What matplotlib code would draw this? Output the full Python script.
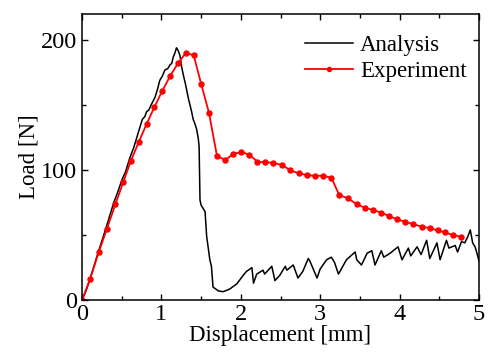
import matplotlib
matplotlib.use("Agg")
import matplotlib.pyplot as plt
from matplotlib.ticker import MultipleLocator

# Experiment (markers)
exp_x = [0, 0.1, 0.21, 0.315, 0.42, 0.52, 0.613, 0.714, 0.815, 0.91, 1.01, 1.11,
         1.213, 1.31, 1.407, 1.50, 1.60, 1.70, 1.805, 1.905, 2.006, 2.107, 2.21,
         2.31, 2.41, 2.52, 2.62, 2.73, 2.83, 2.93, 3.04, 3.14, 3.24, 3.35, 3.46,
         3.56, 3.67, 3.77, 3.87, 3.97, 4.07, 4.17, 4.28, 4.38, 4.48, 4.57, 4.67, 4.77]
exp_y = [0, 15.9, 36.7, 55, 73.6, 90.8, 106.7, 121.5, 135.6, 148.2, 160.8, 172.3,
         182.5, 190.2, 188.2, 166.4, 143.8, 110.8, 107.7, 112.3, 113.9, 111.8, 106.4,
         105.9, 105.6, 103.8, 100, 97.4, 96.2, 95.6, 95.6, 94.1, 80.8, 78.2, 73.8,
         71, 69.2, 67.2, 64.6, 62, 60.2, 58.5, 56.4, 55.4, 53.6, 52.1, 50, 48.7]

# Analysis curve vertices
ana_x = [0, 0.05, 0.1, 0.2, 0.3, 0.4, 0.45, 0.5, 0.55, 0.6, 0.65, 0.7, 0.73, 0.76,
         0.79, 0.815, 0.84, 0.87, 0.92, 0.95, 0.98, 1.01, 1.045, 1.08, 1.11, 1.13,
         1.15, 1.17, 1.19, 1.21, 1.234, 1.256, 1.28, 1.30, 1.34, 1.38, 1.40, 1.42,
         1.445, 1.465, 1.475, 1.486, 1.50, 1.53, 1.55, 1.57, 1.61, 1.63, 1.65, 1.72,
         1.78, 1.86, 1.95, 2.03, 2.07, 2.14, 2.16, 2.2, 2.28, 2.30, 2.39, 2.43, 2.49,
         2.56, 2.58, 2.66, 2.72, 2.78, 2.85, 2.87, 2.96, 3.0, 3.08, 3.14, 3.18, 3.23,
         3.33, 3.44, 3.46, 3.52, 3.59, 3.65, 3.69, 3.77, 3.80, 3.88, 3.98, 4.03, 4.11,
         4.14, 4.22, 4.27, 4.34, 4.38, 4.47, 4.51, 4.59, 4.62, 4.70, 4.73, 4.78, 4.82,
         4.86, 4.89, 4.92, 4.95, 4.97, 5.0]
ana_y = [0, 7, 16, 36, 55, 75, 83, 92, 99, 109, 117, 127, 133, 139,
         141, 145, 146, 150, 156, 162, 169, 172, 177, 178, 181, 182,
         187, 190, 194, 192, 188, 179, 172, 167, 155, 145, 139, 136,
         131, 124, 118, 77, 73, 70, 68, 49, 31, 26, 10, 7,
         6.5, 8.5, 12.5, 19, 22, 25, 13, 20, 23, 20, 26, 15, 19,
         26, 23, 27, 17, 22, 32, 30, 17, 24, 31, 33, 29, 20,
         31, 37, 31, 27, 36, 38, 27, 38, 33, 36, 41, 31, 40,
         34, 41, 35, 46, 32, 44, 31, 46, 40, 42, 37, 45, 44,
         49, 54, 44, 41, 37, 30]

plt.rcParams["font.family"] = ["Liberation Serif", "DejaVu Serif"]
plt.rcParams["font.size"] = 16.5

fig = plt.figure(figsize=(4.91, 3.56), dpi=100)
ax = fig.add_axes([0.167, 0.157, 0.8086, 0.8037])

ax.plot(ana_x, ana_y, color="black", lw=1.1, label="Analysis")
ax.plot(exp_x, exp_y, color="#ff0000", lw=1.3, marker="o", ms=3.6,
        label="Experiment")

ax.set_xlim(0, 5)
ax.set_ylim(0, 220)
ax.xaxis.set_major_locator(MultipleLocator(1))
ax.xaxis.set_minor_locator(MultipleLocator(0.5))
ax.yaxis.set_major_locator(MultipleLocator(100))
ax.yaxis.set_minor_locator(MultipleLocator(50))
ax.tick_params(which="both", direction="in", top=True, right=True, width=1,
               labelsize=17.5)
ax.tick_params(which="major", length=4)
ax.tick_params(which="minor", length=3)
ax.tick_params(axis="x", which="major", pad=3)
ax.tick_params(axis="y", which="major", pad=3.5)
for s in ax.spines.values():
    s.set_linewidth(1.1)

ax.set_xlabel("Displacement [mm]", labelpad=0)
ax.set_ylabel("Load [N]", labelpad=1)

leg = ax.legend(loc="upper right", bbox_to_anchor=(0.981, 0.942), frameon=False,
                handlelength=2.1, handletextpad=0.3, labelspacing=0.2,
                borderaxespad=0, borderpad=0.2, markerscale=0.8, fontsize=16.5)

fig.savefig("out.png", dpi=100)
